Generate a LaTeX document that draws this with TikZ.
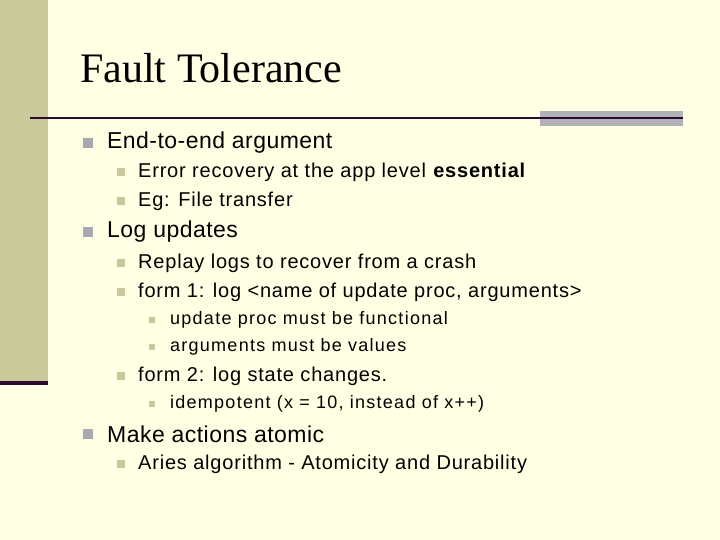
\documentclass[tikz,border=0pt]{standalone}
\usepackage{fontspec}
\setmainfont{Liberation Serif}
\setsansfont{Liberation Sans}
\newfontfamily\fa[LetterSpace=2]{Liberation Sans}
\newfontfamily\fb[LetterSpace=4]{Liberation Sans}
\newfontfamily\fc[LetterSpace=7]{Liberation Sans}
\begin{document}
\begin{tikzpicture}[x=1pt,y=-1pt,
  la/.style={anchor=west,inner sep=0pt,font=\fa\fontsize{23}{25}\selectfont},
  lb/.style={anchor=west,inner sep=0pt,font=\fb\fontsize{20}{22}\selectfont},
  lc/.style={anchor=west,inner sep=0pt,font=\fc\fontsize{18}{20}\selectfont},
  ba/.style={fill=bulA,draw=none,minimum size=10pt,inner sep=0pt},
  bb/.style={fill=bulB,draw=none,minimum size=8pt,inner sep=0pt},
  bc/.style={fill=bulB,draw=none,minimum size=6pt,inner sep=0pt}]
\definecolor{bg}{HTML}{FFFFE3}
\definecolor{bar}{HTML}{C9C99B}
\definecolor{bulA}{HTML}{A8A8B0}
\definecolor{bulB}{HTML}{C8C89A}
\definecolor{dk}{HTML}{2A0A2A}
\fill[bg] (0,0) rectangle (720,540);
\useasboundingbox (0,0) rectangle (720,540);
\fill[bar] (0,0) rectangle (48,382);
\fill[dk] (0,381) rectangle (48,385);
\fill[bulA!90!white] (540,111) rectangle (683,126);
\draw[dk,line width=2pt] (30,118) -- (683,118);
\node[anchor=base west,inner sep=0pt,font=\fontsize{42}{46}\selectfont] (t) at (80,83) {Fault Tolerance};
\node[ba] (b1) at (88,143) {}; \node[la] (a1) at (107,143) {End-to-end argument};
\node[bb] (b2) at (121,172) {}; \node[lb] (a2) at (138,172) {Error recovery at the app level \textbf{essential}};
\node[bb] (b3) at (121,201) {}; \node[lb] (a3) at (138,201) {Eg: File transfer};
\node[ba] (b4) at (88,232) {}; \node[la] (a4) at (107,232) {Log updates};
\node[bb] (b5) at (121,263) {}; \node[lb] (a5) at (138,263) {Replay logs to recover from a crash};
\node[bb] (b6) at (121,292) {}; \node[lb] (a6) at (138,292) {form 1: log <name of update proc, arguments>};
\node[bc] (b7) at (152,320) {}; \node[lc] (a7) at (170,320) {update proc must be functional};
\node[bc] (b8) at (152,347) {}; \node[lc] (a8) at (170,347) {arguments must be values};
\node[bb] (b9) at (121,376) {}; \node[lb] (a9) at (138,376) {form 2: log state changes.};
\node[bc] (b10) at (152,404) {}; \node[lc] (a10) at (170,404) {idempotent (x = 10, instead of x++)};
\node[ba] (b11) at (88,434) {}; \node[la] (a11) at (107,434) {Make actions atomic};
\node[bb] (b12) at (121,464) {}; \node[lb] (a12) at (138,464) {Aries algorithm - Atomicity and Durability};
\end{tikzpicture}
\end{document}
